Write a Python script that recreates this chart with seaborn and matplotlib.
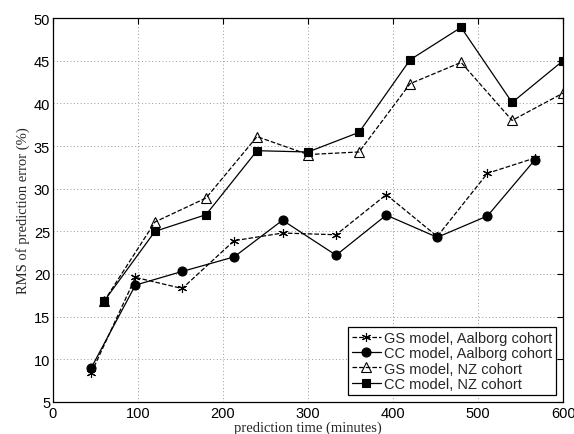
import pandas as pd
import matplotlib
matplotlib.use("Agg")
import matplotlib.pyplot as plt
import seaborn as sns

# prediction times (minutes)
t_aalborg = [45, 97, 152, 213, 270, 333, 392, 452, 511, 567]
t_nz = [60, 120, 180, 240, 300, 360, 420, 480, 540, 600]

# RMS of prediction error (%)
gs_aalborg = [8.4, 19.6, 18.3, 23.9, 24.8, 24.6, 29.3, 24.4, 31.8, 33.6]
cc_aalborg = [9.0, 18.7, 20.3, 22.0, 26.3, 22.2, 26.9, 24.3, 26.8, 33.4]
gs_nz = [16.8, 26.1, 28.9, 36.1, 34.0, 34.3, 42.3, 44.8, 38.0, 41.2]
cc_nz = [16.8, 25.0, 26.95, 34.45, 34.3, 36.6, 45.1, 48.9, 40.1, 45.0]

labels = ["GS model, Aalborg cohort", "CC model, Aalborg cohort",
          "GS model, NZ cohort", "CC model, NZ cohort"]

sns.set_style("white")
plt.rcParams["font.family"] = ["Liberation Sans", "DejaVu Sans"]

fig = plt.figure(figsize=(5.74, 4.35), dpi=100)
ax = fig.add_axes([0.0923, 0.0736, 0.8887, 0.8827])

star = (6, 2, 0)  # six-armed asterisk like matlab '*'
series = [
    (t_aalborg, gs_aalborg, labels[0], "--", star, 6.5, "k"),
    (t_aalborg, cc_aalborg, labels[1], "-", "o", 6.5, "k"),
    (t_nz, gs_nz, labels[2], "--", "^", 6.5, "none"),
    (t_nz, cc_nz, labels[3], "-", "s", 5.5, "k"),
]
for x, y, lab, ls, mk, ms, mfc in series:
    df = pd.DataFrame({"t": x, "rms": y})
    sns.lineplot(data=df, x="t", y="rms", ax=ax, color="black", linewidth=0.9,
                 linestyle=ls, marker=mk, markersize=ms, markerfacecolor=mfc,
                 markeredgecolor="black", markeredgewidth=0.8, label=lab)

ax.set_xlim(0, 600)
ax.set_ylim(5, 50)
ax.set_xticks(range(0, 601, 100))
ax.set_yticks(range(5, 51, 5))
ax.grid(True, linestyle=(0, (1, 2.5)), color="#999999", linewidth=0.7)
for s in ax.spines.values():
    s.set_color("black")
    s.set_linewidth(0.9)
ax.tick_params(direction="in", length=4, width=0.8, top=True, right=True,
               labelsize=10.5, pad=2, colors="black")
ax.tick_params(axis="x", pad=3)

ax.set_xlabel("prediction time (minutes)", family="Liberation Serif", fontsize=10.5, labelpad=0)
ax.set_ylabel("RMS of prediction error (%)", family="Liberation Serif", fontsize=10.5, labelpad=3)

leg = ax.legend(loc="lower right", fontsize=10.5, frameon=True, fancybox=False,
                edgecolor="black", handlelength=2.0, handletextpad=0.2,
                borderpad=0.25, labelspacing=0.1, borderaxespad=0.5)
leg.get_frame().set_linewidth(0.9)
leg.get_frame().set_alpha(1)

fig.savefig("out.png", dpi=100)
